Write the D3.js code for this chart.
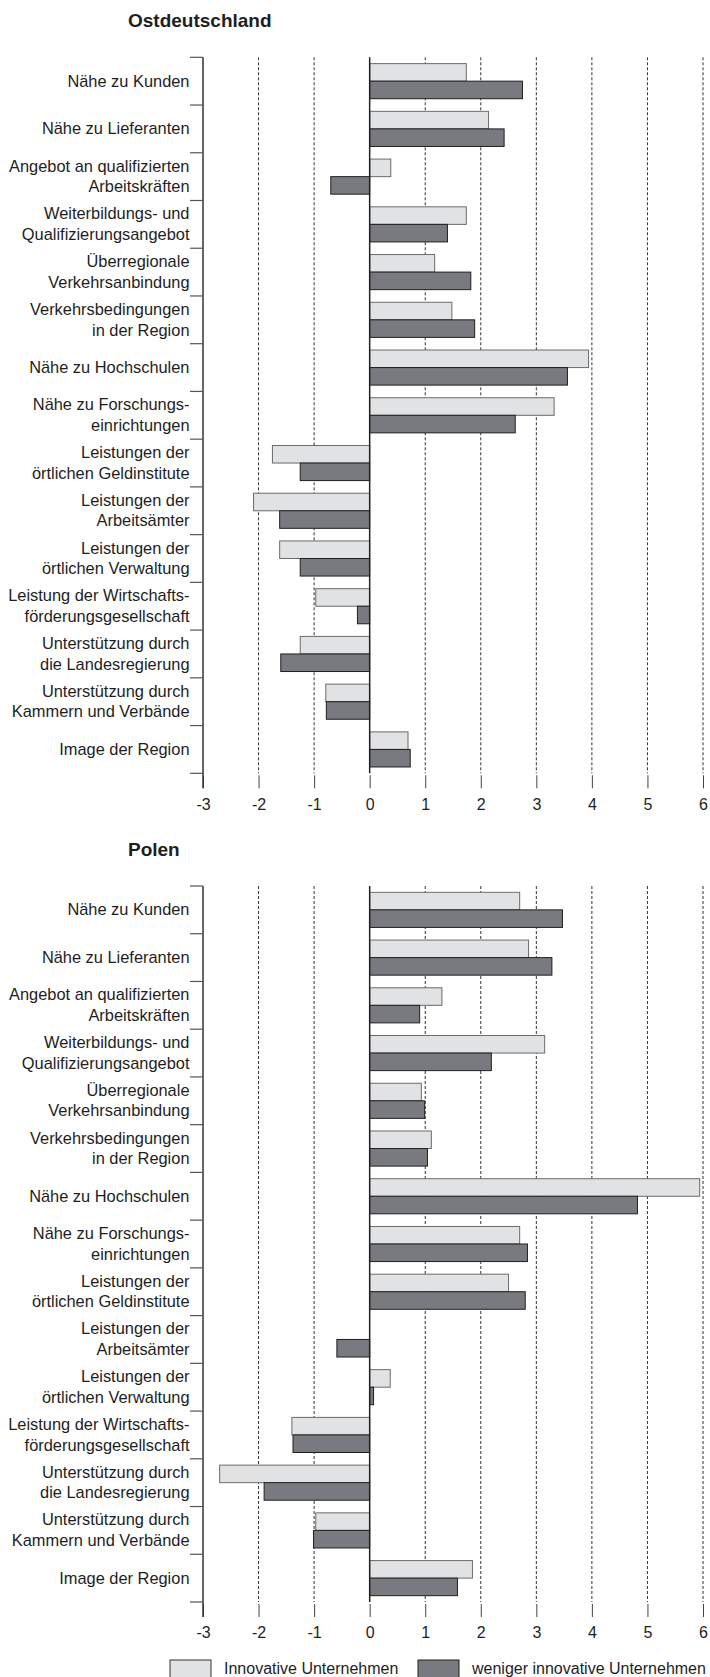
<!DOCTYPE html>
<html>
<head>
<meta charset="utf-8">
<script src="https://cdn.jsdelivr.net/npm/d3@7"></script>
<style>
  body { margin: 0; background: #fff; }
  text { font-family: "Liberation Sans", Arial, sans-serif; fill: #1e1e1e; }
</style>
</head>
<body>
<div id="chart"></div>
<script>
// categories, "|" marks the line break of the label
var categories = [
  "Nähe zu Kunden",
  "Nähe zu Lieferanten",
  "Angebot an qualifizierten|Arbeitskräften",
  "Weiterbildungs- und|Qualifizierungsangebot",
  "Überregionale|Verkehrsanbindung",
  "Verkehrsbedingungen|in der Region",
  "Nähe zu Hochschulen",
  "Nähe zu Forschungs-|einrichtungen",
  "Leistungen der|örtlichen Geldinstitute",
  "Leistungen der|Arbeitsämter",
  "Leistungen der|örtlichen Verwaltung",
  "Leistung der Wirtschafts-|förderungsgesellschaft",
  "Unterstützung durch|die Landesregierung",
  "Unterstützung durch|Kammern und Verbände",
  "Image der Region"
];

var seriesNames = ["Innovative Unternehmen", "weniger innovative Unternehmen"];

var ostInnovativ = [1.74, 2.14, 0.38, 1.74, 1.17, 1.48, 3.94, 3.32, -1.75, -2.09, -1.62, -0.97, -1.25, -0.79, 0.69];
var ostWeniger   = [2.75, 2.42, -0.70, 1.40, 1.82, 1.89, 3.56, 2.62, -1.25, -1.62, -1.25, -0.22, -1.60, -0.78, 0.73];

var polenInnovativ = [2.70, 2.86, 1.30, 3.15, 0.93, 1.11, 5.94, 2.70, 2.50, 0, 0.37, -1.40, -2.70, -0.97, 1.85];
var polenWeniger   = [3.47, 3.28, 0.90, 2.19, 0.99, 1.04, 4.82, 2.84, 2.80, -0.59, 0.07, -1.38, -1.90, -1.01, 1.58];

var xTicks = [-3, -2, -1, 0, 1, 2, 3, 4, 5, 6];

var svgWidth = 710;
var svgHeight = 1677;

var lightFill = "#e1e2e4", lightStroke = "#6b6b6b";
var darkFill = "#797a7f", darkStroke = "#1f1f1f";

var svg = d3.select("#chart")
  .append("svg")
  .attr("width", svgWidth)
  .attr("height", svgHeight);

var x = d3.scaleLinear()
  .domain([-3, 6])
  .range([203, 703]);

var plotHeight = 716;

function drawPanel(top, title, innov, weniger) {
  var g = svg.append("g")
    .attr("transform", `translate(0, ${top})`);

  var y = d3.scaleBand()
    .domain(categories)
    .range([0, plotHeight]);

  var ySub = d3.scaleBand()
    .domain(seriesNames)
    .range([0, y.bandwidth()])
    .paddingInner(0)
    .paddingOuter(0.36);

  // title
  g.append("text")
    .attr("x", 128)
    .attr("y", -30)
    .style("font-weight", "bold")
    .style("font-size", "19px")
    .text(title);

  // dashed grid
  g.selectAll("line.grid")
    .data(xTicks.filter(d => d != -3 && d != 0))
    .enter()
    .append("line")
    .attr("class", "grid")
    .attr("x1", d => x(d)).attr("x2", d => x(d))
    .attr("y1", 0).attr("y2", plotHeight)
    .attr("stroke", "#333")
    .attr("stroke-dasharray", "3,2");

  // bars
  var rows = categories.map((c, i) => ({cat: c, vals: [innov[i], weniger[i]]}));

  var rowGroup = g.selectAll("g.row")
    .data(rows)
    .enter()
    .append("g")
    .attr("transform", d => `translate(0, ${y(d.cat)})`);

  rowGroup.selectAll("rect")
    .data(d => d.vals.map((v, k) => ({key: seriesNames[k], v: v, k: k})))
    .enter()
    .append("rect")
    .attr("x", d => x(Math.min(0, d.v)))
    .attr("width", d => Math.abs(x(d.v) - x(0)))
    .attr("y", d => ySub(d.key))
    .attr("height", ySub.bandwidth())
    .attr("fill", d => d.k == 0 ? lightFill : darkFill)
    .attr("stroke", d => d.k == 0 ? lightStroke : darkStroke)
    .attr("stroke-width", 1);

  // zero line
  g.append("line")
    .attr("x1", x(0)).attr("x2", x(0))
    .attr("y1", 0).attr("y2", plotHeight)
    .attr("stroke", "#222")
    .attr("stroke-width", 1.5);

  // x axis, no baseline
  var xAxis = g.append("g")
    .attr("transform", `translate(0, ${plotHeight + 2})`)
    .call(d3.axisBottom(x).tickValues(xTicks).tickSize(13).tickPadding(10).tickFormat(d => String(d)));
  xAxis.select(".domain").remove();
  xAxis.selectAll("line").attr("stroke", "#444");
  xAxis.selectAll("text")
    .style("font-size", "16px")
    .style("font-family", '"Liberation Sans", Arial, sans-serif')
    .attr("fill", "#1e1e1e");

  // y axis with labels
  var yAxis = g.append("g")
    .attr("transform", `translate(${x(-3)}, 0)`)
    .call(d3.axisLeft(y).tickSize(0).tickPadding(13.5));
  yAxis.select(".domain").remove();
  yAxis.selectAll("text")
    .style("font-size", "16.4px")
    .style("font-family", '"Liberation Sans", Arial, sans-serif')
    .attr("fill", "#1e1e1e")
    .attr("dy", null)
    .each(function(d) {
      var lines = d.split("|");
      var t = d3.select(this).text(null);
      var tx = t.attr("x");
      lines.forEach(function(line, i) {
        t.append("tspan")
          .attr("x", tx)
          .attr("dy", i == 0 ? (lines.length == 1 ? 5.4 : -5.0) : 20.7)
          .text(line);
      });
    });

  yAxis.append("line")
    .attr("x1", 0).attr("x2", 0)
    .attr("y1", 0).attr("y2", plotHeight + 15)
    .attr("stroke", "#333")
    .attr("stroke-width", 1.5);

  // boundary ticks between categories
  var bounds = categories.map(c => y(c)).concat([plotHeight]);
  yAxis.selectAll("line.bound")
    .data(bounds)
    .enter()
    .append("line")
    .attr("class", "bound")
    .attr("x1", -13).attr("x2", 0)
    .attr("y1", d => d).attr("y2", d => d)
    .attr("stroke", "#555")
    .attr("stroke-width", 1.2);
}

drawPanel(57.3, "Ostdeutschland", ostInnovativ, ostWeniger);
drawPanel(886, "Polen", polenInnovativ, polenWeniger);

// legend
var legend = svg.append("g")
  .attr("transform", "translate(0, 1660)");

var legendX = [170, 418];
seriesNames.forEach(function(name, i) {
  legend.append("rect")
    .attr("x", legendX[i]).attr("y", 0)
    .attr("width", 41).attr("height", 30)
    .attr("fill", i == 0 ? lightFill : darkFill)
    .attr("stroke", i == 0 ? "#333" : darkStroke);
  legend.append("text")
    .attr("x", legendX[i] + 54)
    .attr("y", 14)
    .style("font-size", "16px")
    .text(name);
});
</script>
</body>
</html>
